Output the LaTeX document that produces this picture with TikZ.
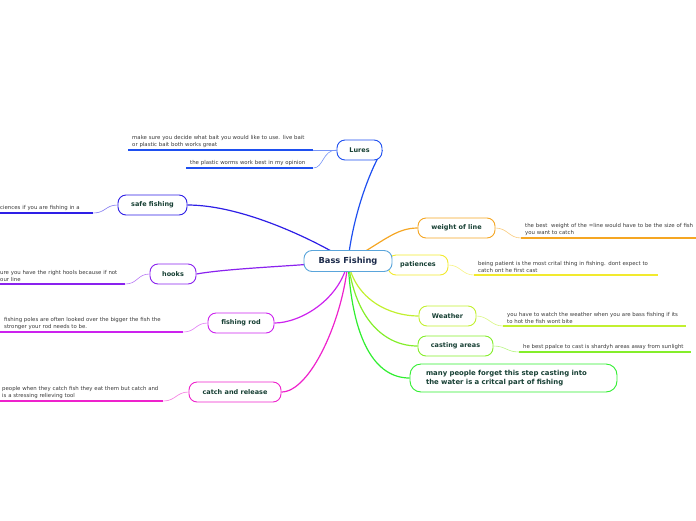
\documentclass[tikz,border=0pt]{standalone}
\usepackage{fontspec}
\setmainfont{DejaVu Sans}
\usetikzlibrary{backgrounds}
\definecolor{HubLine}{HTML}{5AA5DB}
\definecolor{HubText}{HTML}{1B2A4A}
\definecolor{TopicText}{HTML}{163F33}
\definecolor{LeafText}{HTML}{3A3A3A}
\definecolor{LuresC}{HTML}{1E4FF0}
\definecolor{SafeC}{HTML}{2E1FE6}
\definecolor{HooksC}{HTML}{8A22EE}
\definecolor{RodC}{HTML}{CC22EE}
\definecolor{CatchC}{HTML}{EE22CC}
\definecolor{WeightC}{HTML}{F5A623}
\definecolor{PatC}{HTML}{F2EA2E}
\definecolor{WeatherC}{HTML}{C2F030}
\definecolor{CastC}{HTML}{84EE2A}
\definecolor{ManyC}{HTML}{30EE30}

\begin{document}
\begin{tikzpicture}[x=1pt,y=-1pt,
    hubbox/.style={draw=HubLine,rounded corners=8pt,line width=0.9pt,fill=white,minimum width=88pt,minimum height=21pt,font=\fontsize{8.3}{10}\selectfont\bfseries,text=HubText},
    topic/.style={draw,rounded corners=8pt,line width=0.9pt,fill=white,minimum height=20pt,inner xsep=3pt,font=\fontsize{6.5}{8}\selectfont\bfseries,text=TopicText},
    leaf/.style={anchor=south west,align=left,inner xsep=4pt,inner ysep=2.4pt,font=\fontsize{5.4}{6.9}\selectfont,text=LeafText},
    branch/.style={line width=1.2pt},
    twig/.style={line width=0.6pt},
    underline/.style={line width=1.7pt}
  ]
    \useasboundingbox (0,0) rectangle (696,520);

    % topics
    \node[topic,draw=PatC,minimum width=60pt] (pat) at (418,265) {patiences};
    \node[hubbox] (hub) at (348,261) {Bass Fishing};
    \node[topic,draw=LuresC,minimum width=45pt] (lures) at (359.5,150) {Lures};
    \node[topic,draw=SafeC,minimum width=69pt] (safe) at (152.5,205) {safe fishing};
    \node[topic,draw=HooksC,minimum width=46pt] (hooks) at (173,274) {hooks};
    \node[topic,draw=RodC,minimum width=66pt] (rod) at (241,323) {fishing rod};
    \node[topic,draw=CatchC,minimum width=92pt] (catch) at (235,392) {catch and release};
    \node[topic,draw=WeightC,minimum width=77pt] (weight) at (456.5,228) {weight of line};
    \node[topic,draw=WeatherC,minimum width=57pt] (weather) at (447.5,316) {Weather};
    \node[topic,draw=CastC,minimum width=75pt] (cast) at (455.5,346) {casting areas};
    \node[topic,draw=ManyC,text width=175pt,inner xsep=16pt,minimum height=28pt,rounded corners=11pt,align=left,
      font=\fontsize{6.9}{8.4}\selectfont\bfseries] (many) at (513.5,378)
      {many people forget this step casting into\\the water is a critcal part of fishing};

    % leaves
    \node[leaf,text width=177pt] (lures1) at (128,150)
      {make sure you decide what bait you would like to use. live bait\\or plastic bait both works great};
    \node[leaf,text width=119pt] (lures2) at (186,168) {the plastic worms work best in my opinion};
    \node[leaf,text width=89pt] (safe1) at (-4,213) {ciences if you are fishing in a};
    \node[leaf,text width=121pt] (hooks1) at (-4,284) {ure you have the right hools because if not\\our line};
    \node[leaf,text width=175pt] (rod1) at (0,332)
      {fishing poles are often looked over the bigger the fish the\\stronger your rod needs to be.};
    \node[leaf,text width=157pt] (catch1) at (-2,401)
      {people when they catch fish they eat them but catch and\\is a stressing relieving tool};
    \node[leaf,text width=185pt] (weight1) at (521,238)
      {the best~ weight of the =line would have to be the size of fish\\you want to catch};
    \node[leaf,text width=176pt] (pat1) at (474,275)
      {being patient is the most crital thing in fishing. dont expect to\\catch ont he first cast};
    \node[leaf,text width=175pt] (weather1) at (503,326)
      {you have to watch the weather when you are bass fishing if its\\to hot the fish wont bite};
    \node[leaf,text width=164pt] (cast1) at (519,352) {he best ppalce to cast is shardyh areas away from sunlight};

    % branches from the hub
    \begin{scope}[on background layer]
      \draw[branch,LuresC] (hub.center) .. controls (353,215) and (370,170) .. (lures.east);
      \draw[branch,SafeC] (hub.center) .. controls (320,243) and (245,205) .. (safe.east);
      \draw[branch,HooksC] (hub.center) .. controls (300,266) and (230,268) .. (hooks.east);
      \draw[branch,RodC] (hub.center) .. controls (340,300) and (300,323) .. (rod.east);
      \draw[branch,CatchC] (hub.center) .. controls (343,320) and (310,392) .. (catch.east);
      \draw[branch,WeightC] (hub.center) .. controls (382,243) and (395,228) .. (weight.west);
      \draw[branch,PatC] (hub.center) -- (pat.west);
      \draw[branch,WeatherC] (hub.center) .. controls (355,300) and (390,316) .. (weather.west);
      \draw[branch,CastC] (hub.center) .. controls (355,320) and (385,346) .. (cast.west);
      \draw[branch,ManyC] (hub.center) .. controls (352,340) and (375,378) .. (many.west);
    \end{scope}

    % underlines and twigs
    \draw[underline,LuresC] (lures1.south west) -- (lures1.south east);
    \draw[underline,LuresC] (lures2.south west) -- (lures2.south east);
    \draw[twig,LuresC!60] (lures.west) .. controls +(-12,0) and +(12,0) .. (lures1.south east);
    \draw[twig,LuresC!60] (lures.west) .. controls +(-14,0) and +(10,0) .. (lures2.south east);
    \draw[underline,SafeC] (safe1.south west) -- (safe1.south east);
    \draw[twig,SafeC!60] (safe.west) .. controls +(-12,0) and +(12,0) .. (safe1.south east);
    \draw[underline,HooksC] (hooks1.south west) -- (hooks1.south east);
    \draw[twig,HooksC!60] (hooks.west) .. controls +(-12,0) and +(12,0) .. (hooks1.south east);
    \draw[underline,RodC] (rod1.south west) -- (rod1.south east);
    \draw[twig,RodC!60] (rod.west) .. controls +(-12,0) and +(12,0) .. (rod1.south east);
    \draw[underline,CatchC] (catch1.south west) -- (catch1.south east);
    \draw[twig,CatchC!60] (catch.west) .. controls +(-12,0) and +(12,0) .. (catch1.south east);
    \draw[underline,WeightC] (weight1.south west) -- (weight1.south east);
    \draw[twig,WeightC!60] (weight.east) .. controls +(12,0) and +(-12,0) .. (weight1.south west);
    \draw[underline,PatC] (pat1.south west) -- (pat1.south east);
    \draw[twig,PatC!60] (pat.east) .. controls +(12,0) and +(-12,0) .. (pat1.south west);
    \draw[underline,WeatherC] (weather1.south west) -- (weather1.south east);
    \draw[twig,WeatherC!60] (weather.east) .. controls +(12,0) and +(-12,0) .. (weather1.south west);
    \draw[underline,CastC] (cast1.south west) -- (cast1.south east);
    \draw[twig,CastC!60] (cast.east) .. controls +(12,0) and +(-12,0) .. (cast1.south west);
  \end{tikzpicture}
\end{document}
